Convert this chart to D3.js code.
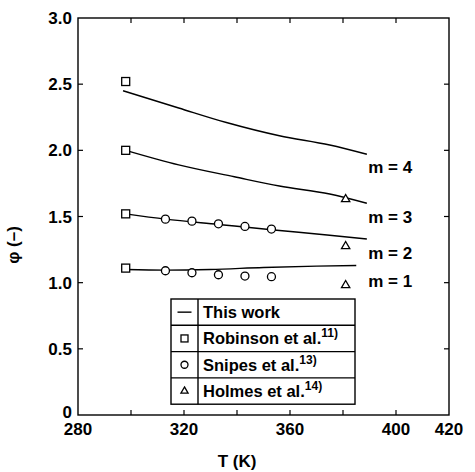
<!DOCTYPE html>
<html>
<meta charset="utf-8">
<head>
    <script src="https://d3js.org/d3.v7.min.js"></script>
</head>

<style>
  body { margin: 0; background: #fff; }
  svg text {
  font-family: "Liberation Sans", Arial, sans-serif;
  font-weight: bold;
  fill: #000;
  }
  svg .tick-label { font-size: 17px; }
  svg .legend text { font-size: 16.5px; }
  svg .mlabel { font-size: 17px; }
  svg .line { fill: none; stroke: #000; stroke-width: 1.4; }
  svg .marker { fill: #fff; stroke: #000; stroke-width: 1.3; }
</style>

<body>
    <script>
        // tick labels
        var xTicks = [280, 320, 360, 400, 420];
        var xMinor = [300, 320, 340, 360, 380, 400];
        var yTicks = [0, 0.5, 1.0, 1.5, 2.0, 2.5, 3.0];

        // this work (lines), T in K
        var lineM4 = [[297, 2.45], [318, 2.32], [336, 2.21], [356, 2.11], [375, 2.04], [389, 1.97]];
        var lineM3 = [[298, 2.0], [318, 1.89], [339, 1.80], [356, 1.73], [375, 1.67], [389, 1.60]];
        var lineM2 = [[298, 1.52], [313, 1.48], [333, 1.44], [353, 1.40], [374, 1.36], [389, 1.33]];
        var lineM1 = [[298, 1.10], [313, 1.095], [330, 1.10], [350, 1.115], [370, 1.125], [385, 1.13]];
        var mLabels = ["m = 4", "m = 3", "m = 2", "m = 1"];
        var mLabelY = [1.83, 1.45, 1.18, 0.97];

        // Robinson et al. (squares)
        var robinsonT = [298, 298, 298, 298];
        var robinsonPhi = [2.52, 2.0, 1.52, 1.11];
        // Snipes et al. (circles)
        var snipesT = [313, 323, 333, 343, 353, 313, 323, 333, 343, 353];
        var snipesPhi = [1.48, 1.465, 1.445, 1.425, 1.405, 1.09, 1.075, 1.06, 1.05, 1.045];
        // Holmes et al. (triangles)
        var holmesT = [381, 381, 381];
        var holmesPhi = [1.63, 1.275, 0.98];

        var legendNames = ["This work", "Robinson et al.", "Snipes et al.", "Holmes et al."];
        var legendRefs = ["", "11)", "13)", "14)"];

        var width = 475, height = 472;
        var pL = 78, pR = 449, pT = 18, pB = 415;

        var svg = d3.select("body").append("svg")
            .attr("width", width)
            .attr("height", height);

        var x = d3.scaleLinear().domain([280, 420]).range([pL, pR]);
        var y = d3.scaleLinear().domain([0, 3]).range([pB, pT]);

        // frame
        svg.append("rect")
            .attr("x", pL).attr("y", pT)
            .attr("width", pR - pL).attr("height", pB - pT)
            .attr("fill", "none").attr("stroke", "#000").attr("stroke-width", 1.4);

        // inward ticks
        var ticks = svg.append("g").attr("stroke", "#000").attr("stroke-width", 1.2);
        xMinor.forEach(function(t) {
            ticks.append("line").attr("x1", x(t)).attr("x2", x(t)).attr("y1", pB).attr("y2", pB - 5);
            ticks.append("line").attr("x1", x(t)).attr("x2", x(t)).attr("y1", pT).attr("y2", pT + 5);
        });
        yTicks.slice(1, -1).forEach(function(v) {
            ticks.append("line").attr("x1", pL).attr("x2", pL + 5).attr("y1", y(v)).attr("y2", y(v));
            ticks.append("line").attr("x1", pR).attr("x2", pR - 5).attr("y1", y(v)).attr("y2", y(v));
        });

        // tick labels
        svg.selectAll(".xlab")
            .data(xTicks)
            .enter().append("text")
            .attr("class", "tick-label")
            .attr("x", function(d) { return x(d); })
            .attr("y", 435)
            .attr("text-anchor", "middle")
            .text(function(d) { return d; });

        svg.selectAll(".ylab")
            .data(yTicks)
            .enter().append("text")
            .attr("class", "tick-label")
            .attr("x", pL - 6)
            .attr("y", function(d) { return y(d) + (d === 0 ? 3 : 6); })
            .attr("text-anchor", "end")
            .text(function(d) { return d === 0 ? "0" : d.toFixed(1); });

        // axis titles
        svg.append("text")
            .attr("class", "tick-label")
            .attr("x", 237).attr("y", 467)
            .attr("text-anchor", "middle")
            .text("T (K)");

        svg.append("text")
            .attr("class", "tick-label")
            .attr("transform", "translate(19,245) rotate(-90)")
            .attr("text-anchor", "middle")
            .text("\u03C6 (\u2013)");

        // lines
        var line = d3.line()
            .x(function(d) { return x(d[0]); })
            .y(function(d) { return y(d[1]); })
            .curve(d3.curveMonotoneX);

        svg.selectAll(".line")
            .data([lineM4, lineM3, lineM2, lineM1])
            .enter().append("path")
            .attr("class", "line")
            .attr("d", line);

        svg.selectAll(".mlabel")
            .data(mLabels)
            .enter().append("text")
            .attr("class", "mlabel")
            .attr("x", x(389.5))
            .attr("y", function(d, i) { return y(mLabelY[i]); })
            .text(function(d) { return d; });

        // markers
        var sq = 8;
        svg.selectAll(".sq")
            .data(robinsonT)
            .enter().append("rect")
            .attr("class", "marker")
            .attr("x", function(d) { return x(d) - sq / 2; })
            .attr("y", function(d, i) { return y(robinsonPhi[i]) - sq / 2; })
            .attr("width", sq).attr("height", sq);

        svg.selectAll(".circ")
            .data(snipesT)
            .enter().append("circle")
            .attr("class", "marker")
            .attr("cx", function(d) { return x(d); })
            .attr("cy", function(d, i) { return y(snipesPhi[i]); })
            .attr("r", 4);

        var tri = d3.symbol().type(d3.symbolTriangle).size(30);
        svg.selectAll(".tri")
            .data(holmesT)
            .enter().append("path")
            .attr("class", "marker")
            .attr("d", tri)
            .attr("transform", function(d, i) { return "translate(" + x(d) + "," + y(holmesPhi[i]) + ")"; });

        // legend
        var lg = svg.append("g").attr("class", "legend");
        var lx0 = 171, lx1 = 198, lx2 = 355, ly0 = 299, rowH = 26.3;
        lg.append("rect")
            .attr("x", lx0).attr("y", ly0)
            .attr("width", lx2 - lx0).attr("height", rowH * 4)
            .attr("fill", "#fff").attr("stroke", "#000").attr("stroke-width", 1.4);
        lg.append("line")
            .attr("x1", lx1).attr("x2", lx1).attr("y1", ly0).attr("y2", ly0 + rowH * 4)
            .attr("stroke", "#000").attr("stroke-width", 1.4);
        [1, 2, 3].forEach(function(i) {
            lg.append("line")
                .attr("x1", lx0).attr("x2", lx2)
                .attr("y1", ly0 + rowH * i).attr("y2", ly0 + rowH * i)
                .attr("stroke", "#000").attr("stroke-width", 1.4);
        });
        legendNames.forEach(function(name, i) {
            var cy = ly0 + rowH * i + rowH / 2;
            var cx = (lx0 + lx1) / 2;
            if (i === 0) {
                lg.append("line").attr("x1", cx - 7).attr("x2", cx + 7).attr("y1", cy).attr("y2", cy)
                    .attr("stroke", "#000").attr("stroke-width", 1.4);
            } else if (i === 1) {
                lg.append("rect").attr("class", "marker").attr("x", cx - 3.5).attr("y", cy - 3.5).attr("width", 7).attr("height", 7);
            } else if (i === 2) {
                lg.append("circle").attr("class", "marker").attr("cx", cx).attr("cy", cy).attr("r", 3.5);
            } else {
                lg.append("path").attr("class", "marker").attr("d", d3.symbol().type(d3.symbolTriangle).size(22))
                    .attr("transform", "translate(" + cx + "," + cy + ")");
            }
            var t = lg.append("text").attr("x", lx1 + 5).attr("y", cy + 6);
            t.append("tspan").text(name);
            if (legendRefs[i]) {
                t.append("tspan").attr("dy", -7).attr("font-size", "12px").text(legendRefs[i]);
            }
        });
    </script>
</body>
</html>
